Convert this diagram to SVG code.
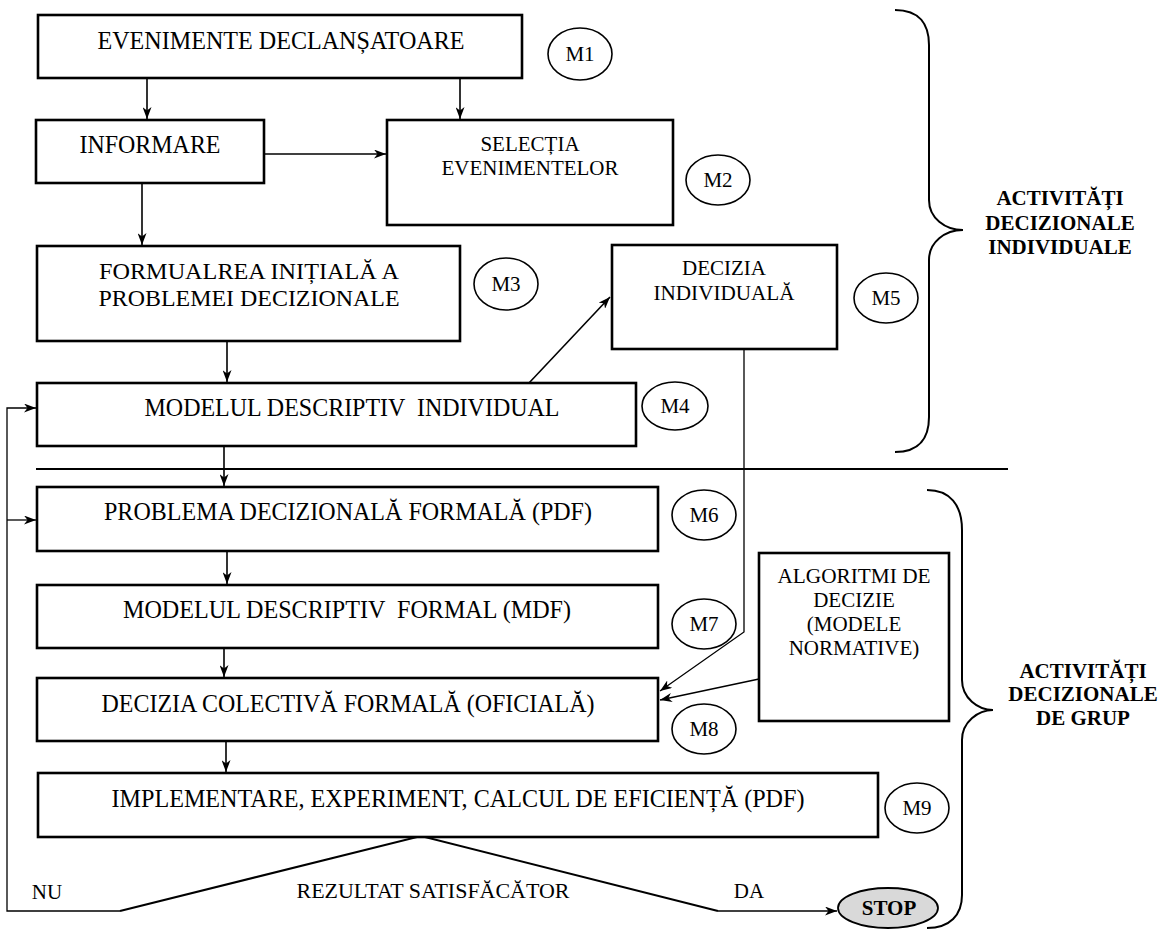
<svg xmlns="http://www.w3.org/2000/svg" width="1173" height="929" viewBox="0 0 1173 929" font-family="'Liberation Serif', 'Times New Roman', 'DejaVu Serif', serif">
<style>
rect.box{fill:#fff;stroke:#000;stroke-width:2.6}
ellipse.m{fill:#fff;stroke:#000;stroke-width:1.6}
text{font-family:'Liberation Serif','Times New Roman','DejaVu Serif',serif;fill:#000;text-anchor:middle}
.t24{font-size:26px}
.t23{font-size:23px}
.t21{font-size:21px}
.tm{font-size:21px}
.tb{font-size:21px;font-weight:bold}
.c{fill:none;stroke:#000;stroke-width:1.6}
.thin{fill:none;stroke:#000;stroke-width:1.3}
.brace{fill:none;stroke:#000;stroke-width:2}
</style>
<defs>
<marker id="ah" viewBox="0 0 12 9" refX="12" refY="4.5" markerWidth="12" markerHeight="9" markerUnits="userSpaceOnUse" orient="auto">
<path d="M0,0 L12,4.5 L0,9 L3.5,4.5 Z" fill="#000"/>
</marker>
</defs>
<rect width="1173" height="929" fill="#fff"/>

<g id="connectors">
<line class="c" x1="147" y1="78" x2="147" y2="119" marker-end="url(#ah)"/>
<line class="c" x1="460" y1="78" x2="460" y2="119" marker-end="url(#ah)"/>
<line class="c" x1="264" y1="154" x2="386" y2="154" marker-end="url(#ah)"/>
<line class="c" x1="142" y1="183" x2="142" y2="245" marker-end="url(#ah)"/>
<line class="c" x1="227" y1="341" x2="227" y2="382" marker-end="url(#ah)"/>
<line class="c" x1="529" y1="383" x2="610" y2="297" marker-end="url(#ah)"/>
<line class="c" x1="224" y1="446" x2="224" y2="486" marker-end="url(#ah)"/>
<line class="c" x1="227" y1="551" x2="227" y2="584" marker-end="url(#ah)"/>
<line class="c" x1="224" y1="648" x2="224" y2="677" marker-end="url(#ah)"/>
<line class="c" x1="226" y1="741" x2="226" y2="772" marker-end="url(#ah)"/>
<polyline class="thin" points="744,349 744,632 660,691" marker-end="url(#ah)"/>
<line class="c" x1="759" y1="679" x2="660" y2="700" marker-end="url(#ah)"/>
<polyline class="thin" points="120,911 7,911 7,408 36,408" marker-end="url(#ah)"/>
<line class="thin" x1="7" y1="520" x2="36" y2="520" marker-end="url(#ah)"/>
<polyline class="brace" points="120,911 421,836 718,911"/>
<line class="thin" x1="718" y1="911" x2="837" y2="911" marker-end="url(#ah)"/>
<line class="brace" x1="36" y1="469" x2="1008" y2="469"/>
</g>

<g id="n1"><rect class="box" x="38" y="15" width="484" height="63"/><text class="t24" x="281" y="49" textLength="367" lengthAdjust="spacingAndGlyphs">EVENIMENTE DECLANȘATOARE</text></g>
<g id="m1"><ellipse class="m" cx="580" cy="54" rx="32" ry="26"/><text class="tm" x="580" y="61">M1</text></g>

<g id="n2"><rect class="box" x="36" y="120" width="228" height="63"/><text class="t24" x="150" y="153" textLength="141" lengthAdjust="spacingAndGlyphs">INFORMARE</text></g>

<g id="n3"><rect class="box" x="387" y="120" width="286" height="105"/><text class="t21" x="530" y="151">SELECȚIA</text><text class="t21" x="530" y="175" textLength="177" lengthAdjust="spacingAndGlyphs">EVENIMENTELOR</text></g>
<g id="m2"><ellipse class="m" cx="718" cy="180" rx="32" ry="25"/><text class="tm" x="718" y="187">M2</text></g>

<g id="n4"><rect class="box" x="37" y="246" width="423" height="95"/><text class="t23" x="249" y="279" textLength="300" lengthAdjust="spacingAndGlyphs">FORMUALREA INIȚIALĂ A</text><text class="t23" x="249" y="306" textLength="301" lengthAdjust="spacingAndGlyphs">PROBLEMEI DECIZIONALE</text></g>
<g id="m3"><ellipse class="m" cx="506" cy="284" rx="32" ry="26"/><text class="tm" x="506" y="291">M3</text></g>

<g id="n5"><rect class="box" x="612" y="245" width="225" height="104"/><text class="t21" x="724" y="275">DECIZIA</text><text class="t21" x="724" y="300" textLength="141" lengthAdjust="spacingAndGlyphs">INDIVIDUALĂ</text></g>
<g id="m5"><ellipse class="m" cx="886" cy="298" rx="32" ry="25"/><text class="tm" x="886" y="305">M5</text></g>

<g id="n6"><rect class="box" x="37" y="383" width="599" height="63"/><text class="t24" x="352" y="416" xml:space="preserve" textLength="415" lengthAdjust="spacingAndGlyphs">MODELUL DESCRIPTIV  INDIVIDUAL</text></g>
<g id="m4"><ellipse class="m" cx="675" cy="406" rx="33" ry="24"/><text class="tm" x="675" y="413">M4</text></g>

<g id="n7"><rect class="box" x="37" y="487" width="621" height="64"/><text class="t24" x="348" y="520" textLength="488" lengthAdjust="spacingAndGlyphs">PROBLEMA DECIZIONALĂ FORMALĂ (PDF)</text></g>
<g id="m6"><ellipse class="m" cx="704" cy="515" rx="32" ry="25"/><text class="tm" x="704" y="522">M6</text></g>

<g id="n8"><rect class="box" x="37" y="585" width="621" height="63"/><text class="t24" x="347" y="618" xml:space="preserve" textLength="448" lengthAdjust="spacingAndGlyphs">MODELUL DESCRIPTIV  FORMAL (MDF)</text></g>
<g id="m7"><ellipse class="m" cx="704" cy="624" rx="32" ry="25"/><text class="tm" x="704" y="631">M7</text></g>

<g id="n9"><rect class="box" x="759" y="553" width="190" height="168"/><text class="t21" x="854" y="583" textLength="153" lengthAdjust="spacingAndGlyphs">ALGORITMI DE</text><text class="t21" x="854" y="607">DECIZIE</text><text class="t21" x="854" y="631">(MODELE</text><text class="t21" x="854" y="655">NORMATIVE)</text></g>

<g id="n10"><rect class="box" x="37" y="678" width="621" height="63"/><text class="t24" x="348" y="712" textLength="493" lengthAdjust="spacingAndGlyphs">DECIZIA COLECTIVĂ FORMALĂ (OFICIALĂ)</text></g>
<g id="m8"><ellipse class="m" cx="704" cy="729" rx="32" ry="25"/><text class="tm" x="704" y="736">M8</text></g>

<g id="n11"><rect class="box" x="38" y="773" width="840" height="64"/><text class="t24" x="458" y="807" textLength="693" lengthAdjust="spacingAndGlyphs">IMPLEMENTARE, EXPERIMENT, CALCUL DE EFICIENȚĂ (PDF)</text></g>
<g id="m9"><ellipse class="m" cx="917" cy="808" rx="32" ry="25"/><text class="tm" x="917" y="815">M9</text></g>

<g id="decision"><text class="t21" x="433" y="898" textLength="273" lengthAdjust="spacingAndGlyphs">REZULTAT SATISFĂCĂTOR</text><text class="t21" x="47" y="899">NU</text><text class="t21" x="749" y="898">DA</text></g>

<g id="stop"><ellipse cx="888" cy="908" rx="50" ry="20" fill="#d9d9d9" stroke="#000" stroke-width="1.8"/><text class="tb" x="889" y="915">STOP</text></g>

<g id="brace-individual"><path class="brace" d="M895,10 C920,10 929,25 929,45 L929,200 C929,218 945,230 963,230 C945,230 929,242 929,260 L929,417 C929,437 920,452 895,452"/><text class="tb" x="1060" y="205">ACTIVITĂȚI</text><text class="tb" x="1060" y="230">DECIZIONALE</text><text class="tb" x="1060" y="254">INDIVIDUALE</text></g>

<g id="brace-grup"><path class="brace" d="M927,490 C950,490 962,505 962,530 L962,680 C962,698 978,710 993,710 C978,710 962,722 962,740 L962,895 C962,915 950,928 927,928"/><text class="tb" x="1083" y="678">ACTIVITĂȚI</text><text class="tb" x="1083" y="701">DECIZIONALE</text><text class="tb" x="1083" y="725">DE GRUP</text></g>
</svg>
